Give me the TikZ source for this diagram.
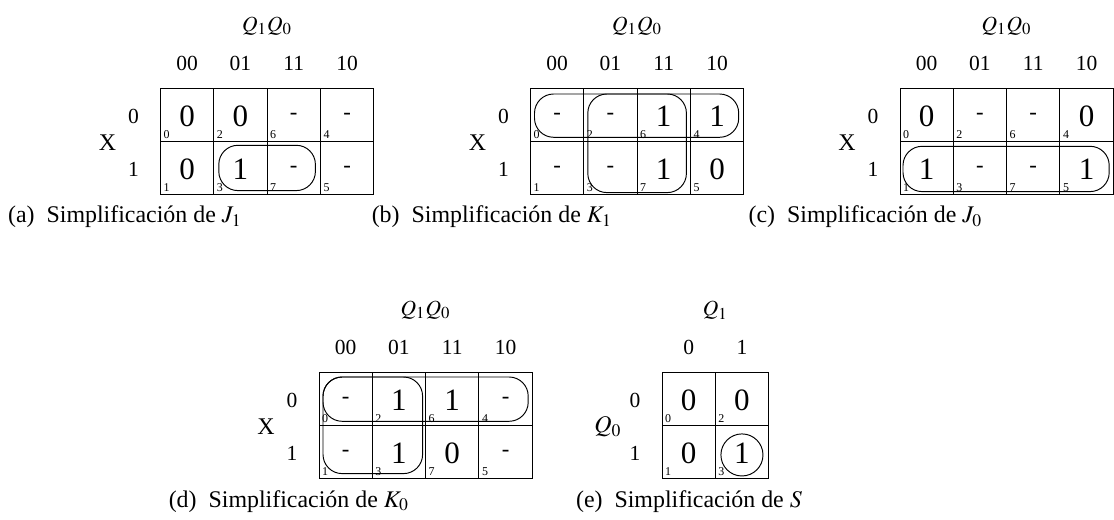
\documentclass[tikz,border=0pt]{standalone}
\usepackage{mathptmx}
\usepackage{fontspec}
\setmainfont{Liberation Serif}
\usetikzlibrary{calc}

% don't care entry
\newcommand{\kx}{{\fontsize{9.5}{9.5}\selectfont -}}

\begin{document}
\begin{tikzpicture}[x=0.4184pt,y=-0.4184pt,
  kcell/.style={draw,line width=0.4pt,minimum width=22.3pt,minimum height=22.3pt,
    inner sep=0pt,outer sep=0pt,anchor=north west},
  kval/.style={font=\fontsize{13}{15}\selectfont,inner sep=0pt,yshift=-0.6pt},
  kidx/.style={font=\fontsize{5}{6}\selectfont,anchor=south west,inner sep=1.1pt},
  klbl/.style={font=\fontsize{9}{11}\selectfont,inner sep=0pt},
  kvar/.style={font=\fontsize{10}{12}\selectfont,inner sep=0pt},
  kcap/.style={font=\fontsize{10}{12}\selectfont,anchor=base,inner sep=0pt},
  kloop/.style={line width=0.4pt,rounded corners=8pt}]
\useasboundingbox (0,0) rectangle (1114,520);

% 4-column maps: cells, index numbers and labels
\foreach \m/\L/\T in {a/160.5/88, b/530.5/88, c/900/88, d/319/372} {
  \foreach \k/\p/\r in {0/0/0,1/0/1,2/1/0,3/1/1,6/2/0,7/2/1,4/3/0,5/3/1} {
    \node[kcell] (\m\k) at (\L+53.3*\p,\T+53.3*\r) {};
    \node[kidx] (\m i\k) at (\m\k.south west) {\k};
  }
  \node[klbl] (\m Q) at (\L+106.6,\T-62) {$Q_1Q_0$};
  \foreach \t [count=\p from 0] in {00,01,11,10}
    \node[klbl] (\m c\p) at (\L+26.65+53.3*\p,\T-25) {\t};
  \foreach \t [count=\r from 0] in {0,1}
    \node[klbl] (\m r\r) at (\L-27,\T+28+53.3*\r) {\t};
  \node[kvar] (\m X) at (\L-53,\T+55) {X};
}

% 2x2 map for S
\foreach \k/\p/\r in {0/0/0,1/0/1,2/1/0,3/1/1} {
  \node[kcell] (e\k) at (662+53.3*\p,372+53.3*\r) {};
  \node[kidx] (ei\k) at (e\k.south west) {\k};
}
\node[klbl] (eQ) at (715.3,310) {$Q_1$};
\foreach \t [count=\p from 0] in {0,1}
  \node[klbl] (ec\p) at (688.65+53.3*\p,347) {\t};
\foreach \t [count=\r from 0] in {0,1}
  \node[klbl] (er\r) at (635,400+53.3*\r) {\t};
\node[kvar] (eX) at (608,427) {$Q_0$};

% entries
\foreach \k/\v in {0/0,1/0,2/0,3/1,6/\kx,7/\kx,4/\kx,5/\kx}
  \node[kval] (av\k) at (a\k) {\v};
\foreach \k/\v in {0/\kx,1/\kx,2/\kx,3/\kx,6/1,7/1,4/1,5/0}
  \node[kval] (bv\k) at (b\k) {\v};
\foreach \k/\v in {0/0,1/1,2/\kx,3/\kx,6/\kx,7/\kx,4/0,5/1}
  \node[kval] (cv\k) at (c\k) {\v};
\foreach \k/\v in {0/\kx,1/\kx,2/1,3/1,6/1,7/0,4/\kx,5/\kx}
  \node[kval] (dv\k) at (d\k) {\v};
\foreach \k/\v in {0/0,1/0,2/0,3/1}
  \node[kval] (ev\k) at (e\k) {\v};

% groupings
\draw[kloop] ($(a3.north west)+(5,4)$) rectangle ($(a7.south east)+(-5,-4)$);
\draw[kloop] ($(b0.north west)+(4,6)$) rectangle ($(b4.south east)+(-5,-4)$);
\draw[kloop] ($(b2.north west)+(4,6)$) rectangle ($(b7.south east)+(-4,-2)$);
\draw[kloop] ($(c1.north west)+(3,5)$) rectangle ($(c5.south east)+(-4,-3)$);
\draw[kloop] ($(d0.north west)+(4,5)$) rectangle ($(d4.south east)+(-4,-4)$);
\draw[kloop] ($(d0.north west)+(4,5)$) rectangle ($(d3.south east)+(-3,-5)$);
\draw[line width=0.4pt] ($(e3)+(0,3)$) circle[radius=8.8pt];

% captions
\node[kcap] (capa) at (125,223) {(a)\hspace{0.5em}Simplificación de $J_1$};
\node[kcap] (capb) at (492,223) {(b)\hspace{0.5em}Simplificación de $K_1$};
\node[kcap] (capc) at (865.5,223) {(c)\hspace{0.5em}Simplificación de $J_0$};
\node[kcap] (capd) at (289,507) {(d)\hspace{0.5em}Simplificación de $K_0$};
\node[kcap] (cape) at (689,507) {(e)\hspace{0.5em}Simplificación de $S$};
\end{tikzpicture}
\end{document}
